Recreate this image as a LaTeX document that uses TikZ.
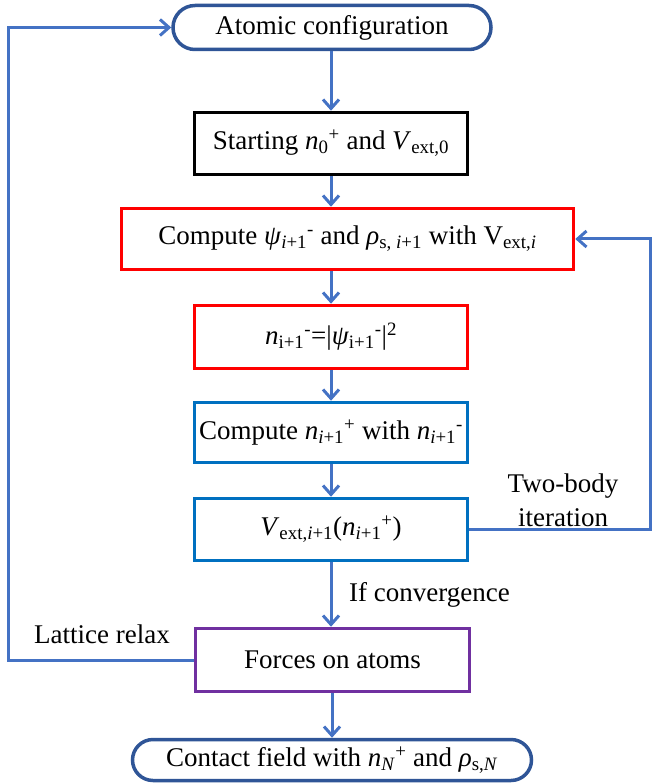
\documentclass[tikz,border=0pt]{standalone}
\usepackage{fontspec}
\setmainfont{Liberation Serif}
\usetikzlibrary{arrows.meta,shapes.misc}
\definecolor{conn}{HTML}{4472C4}
\definecolor{darkb}{HTML}{2F5597}
\definecolor{boxblue}{HTML}{0070C0}
\definecolor{boxred}{HTML}{FF0000}
\definecolor{boxpurple}{HTML}{7030A0}
\newcommand{\sub}[1]{\textsubscript{#1}}
\newcommand{\sups}[1]{\textsuperscript{#1}}
\begin{document}
\begin{tikzpicture}[x=1pt,y=-1pt,
  every node/.style={font=\fontsize{27}{32}\selectfont, inner sep=0pt},
  boxstyle/.style={rectangle, draw, line width=3.5pt, fill=white},
  termstyle/.style={rounded rectangle, draw=darkb, line width=3.5pt, fill=white},
  arr/.style={draw=conn, line width=3pt, -{Straight Barb[length=9pt,width=16pt,line width=3pt]}},
  ln/.style={draw=conn, line width=3pt}]
\useasboundingbox (0,0) rectangle (652,783);
\node[termstyle, minimum width=318pt, minimum height=44pt] (atomic) at (332,27.5) {Atomic configuration};
\node[boxstyle, draw=black, minimum width=273pt, minimum height=62pt] (start) at (331,143.5)
  {Starting \textit{n}\sub{0}\sups{+} and \textit{V}\sub{ext,0}};
\node[boxstyle, draw=boxred, minimum width=452pt, minimum height=61pt] (red) at (347.5,239)
  {Compute \textit{ψ}\sub{\textit{i}+1}\sups{-} and \textit{ρ}\sub{s, \textit{i}+1} with V\sub{ext,\textit{i}}};
\node[boxstyle, draw=boxred, minimum width=273pt, minimum height=63pt] (nbox) at (331,337)
  {\textit{n}\sub{i+1}\sups{-}=|\textit{ψ}\sub{i+1}\sups{-}|\sups{2}};
\node[boxstyle, draw=boxblue, minimum width=273pt, minimum height=60pt] (comp) at (331,432.5)
  {Compute \textit{n}\sub{\textit{i}+1}\sups{+} with \textit{n}\sub{\textit{i}+1}\sups{-}};
\node[boxstyle, draw=boxblue, minimum width=273pt, minimum height=62pt] (vbox) at (331,529.5)
  {\textit{V}\sub{ext,\textit{i}+1}(\textit{n}\sub{\textit{i}+1}\sups{+})};
\node[boxstyle, draw=boxpurple, minimum width=274pt, minimum height=63pt] (forces) at (332.5,660)
  {Forces on atoms};
\node[termstyle, minimum width=399pt, minimum height=41pt] (contact) at (332,760)
  {Contact field with \textit{n}\sub{\textit{N}}\sups{+} and \textit{ρ}\sub{s,\textit{N}}};
\node[anchor=west] (conv) at (349,595) {If convergence};
\node[align=center] (two) at (563,500) {Two-body\\[2pt]iteration};
\node (lat) at (102,634) {Lattice relax};
\coordinate (rt) at (650.5,239);
\coordinate (lc) at (8,660);
\draw[arr] (atomic.south -| start.north) -- (start.north);
\draw[arr] (start.south) -- (start.south |- red.north);
\draw[arr] (nbox.north |- red.south) -- (nbox.north);
\draw[arr] (nbox.south) -- (comp.north);
\draw[arr] (comp.south) -- (vbox.north);
\draw[arr] (vbox.south) -- (vbox.south |- forces.north);
\draw[arr] (forces.south -| contact.north) -- (contact.north);
\draw[arr] (vbox.east) -| (rt) -- (red.east);
\draw[arr] (forces.west) -- (lc) |- (atomic.west);
\end{tikzpicture}
\end{document}
